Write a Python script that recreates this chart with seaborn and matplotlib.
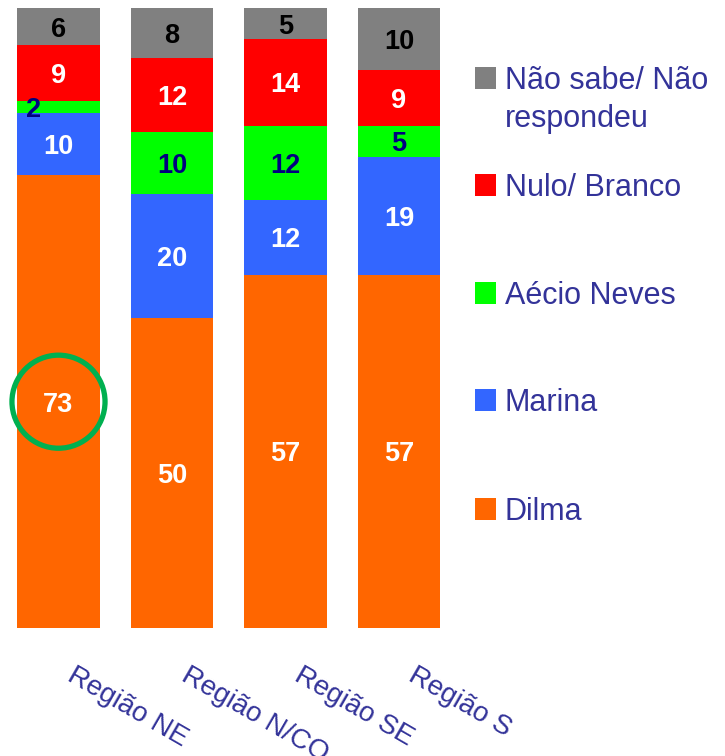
import numpy as np
import pandas as pd
import seaborn as sns
import matplotlib.pyplot as plt
from matplotlib.patches import Rectangle

# Data (percent per region)
regions = ["Região NE", "Região N/CO", "Região SE", "Região S"]
dilma = [73, 50, 57, 57]
marina = [10, 20, 12, 19]
aecio = [2, 10, 12, 5]
nulo = [9, 12, 14, 9]
nao_sabe = [6, 8, 5, 10]

series_names = ["Dilma", "Marina", "Aécio Neves", "Nulo/ Branco", "Não sabe/ Não\nrespondeu"]
series_vals = [dilma, marina, aecio, nulo, nao_sabe]
colors = ["#FF6600", "#3366FF", "#00FF00", "#FF0000", "#808080"]
label_colors = ["white", "white", "#000080", "white", "black"]

W, H = 725, 756
sns.set_style("white")
plt.rcParams['font.family'] = ['Liberation Sans', 'DejaVu Sans']

fig = plt.figure(figsize=(W / 100, H / 100), dpi=100)
ax = fig.add_axes([1.75 / W, (H - 628) / H, 454 / W, 620 / H])

df = pd.DataFrame({"region": regions})
cum = np.zeros(len(regions))
cums = []
for vals in series_vals:
    cum = cum + np.array(vals)
    cums.append(cum.copy())

# draw cumulative totals from the top down so each layer covers the previous one
for i in range(len(series_vals) - 1, -1, -1):
    df["val"] = cums[i]
    sns.barplot(data=df, x="region", y="val", color=colors[i], saturation=1,
                width=0.73, ax=ax, edgecolor="none", linewidth=0)

# value labels
for i, vals in enumerate(series_vals):
    for j, v in enumerate(vals):
        mid = cums[i][j] - v / 2
        dx = -0.22 if v < 4 else 0
        ax.text(j + dx, mid, str(v), ha="center", va="center_baseline",
                fontsize=19.5, fontweight="bold", color=label_colors[i])

# highlight circle around Dilma NE
ax.scatter([0], [dilma[0] / 2], s=4489, facecolors="none", edgecolors="#00B050",
           linewidths=3.8, zorder=5, clip_on=False)

ax.set_xlim(-0.5, 3.5)
ax.set_ylim(0, 100)
ax.set_xticks([])
ax.set_yticks([])
ax.set_xlabel("")
ax.set_ylabel("")
sns.despine(ax=ax, left=True, bottom=True)

# slanted region labels
for j, r in enumerate(regions):
    ax.text(j + 0.07, -8.4, r, rotation=-30, rotation_mode="anchor",
            ha="left", va="baseline", fontsize=20, color="#333399", clip_on=False)

# legend on the right
legend_y = [78, 185, 293, 400, 509]
order = [4, 3, 2, 1, 0]
for k, idx in enumerate(order):
    yc = legend_y[k]
    fig.add_artist(Rectangle((475 / W, (H - yc - 11) / H), 21 / W, 22 / H,
                             transform=fig.transFigure, facecolor=colors[idx],
                             edgecolor="none"))
    for n, line in enumerate(series_names[idx].split("\n")):
        fig.text(505 / W, (H - yc - 11 - 38 * n) / H, line, ha="left",
                 va="baseline", fontsize=22, color="#333399")

fig.savefig("out.png", dpi=100)
